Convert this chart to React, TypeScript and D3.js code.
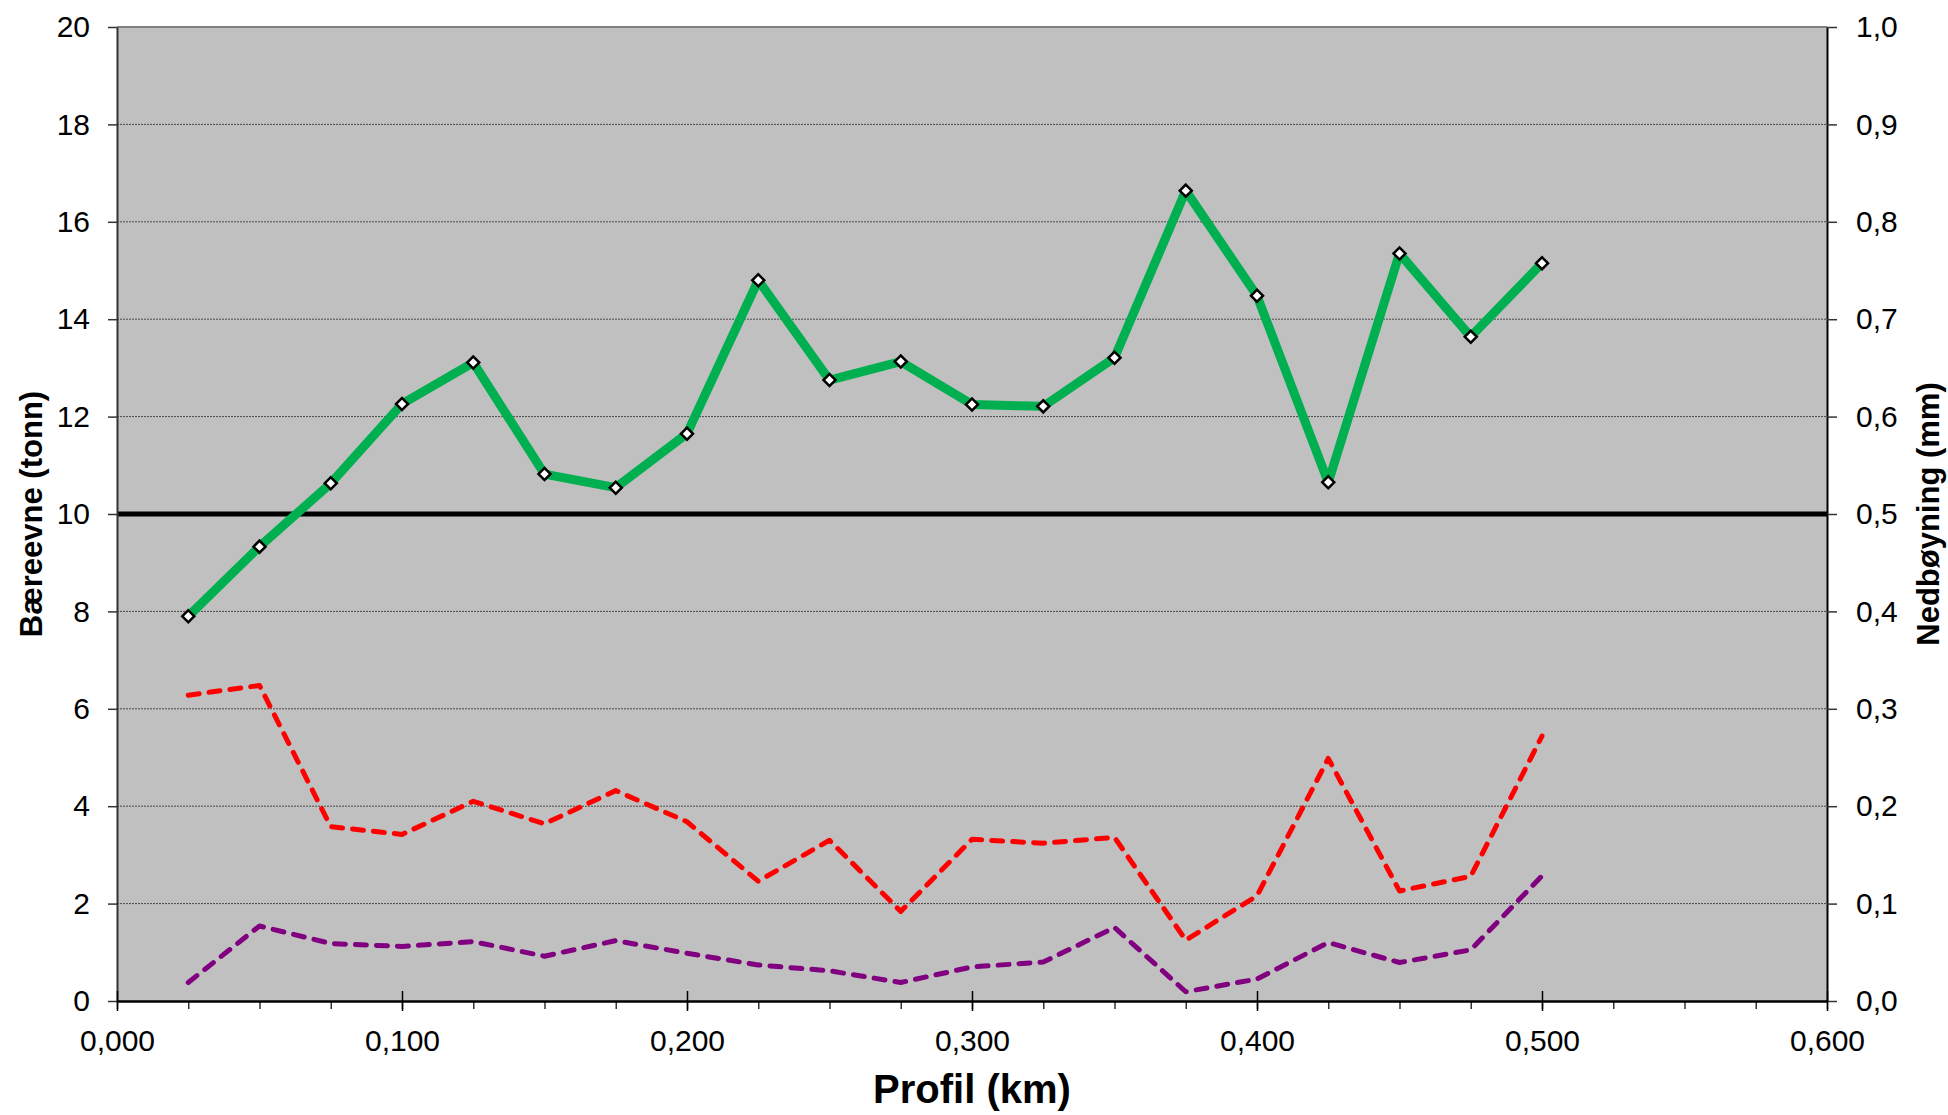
import React, { useEffect, useRef } from 'react';
import * as d3 from 'd3';

// profil (km) for each measuring point
const profil = [0.025, 0.05, 0.075, 0.1, 0.125, 0.15, 0.175, 0.2, 0.225, 0.25,
  0.275, 0.3, 0.325, 0.35, 0.375, 0.4, 0.425, 0.45, 0.475, 0.5];

// bæreevne (tonn), left axis
const baereevne = [7.9, 9.33, 10.63, 12.26, 13.11, 10.82, 10.54, 11.65, 14.8, 12.75,
  13.13, 12.25, 12.21, 13.21, 16.64, 14.48, 10.65, 15.35, 13.64, 15.15];

// nedbøyning (mm), right axis
const nedbA = [0.314, 0.324, 0.179, 0.171, 0.205, 0.182, 0.216, 0.184, 0.123, 0.165,
  0.092, 0.166, 0.162, 0.168, 0.0625, 0.108, 0.249, 0.113, 0.128, 0.272];
const nedbB = [0.019, 0.077, 0.059, 0.056, 0.061, 0.046, 0.062, 0.049, 0.037, 0.031,
  0.019, 0.035, 0.040, 0.0755, 0.0095, 0.0225, 0.060, 0.0395, 0.0525, 0.1285];

const grense = 10;

const W = 1948;
const H = 1115;
const margin = { top: 27, right: 121, bottom: 114, left: 117 };
const FONT = "'Liberation Sans', Arial, sans-serif";

const comma = (f: (n: number) => string) => (d: any) => f(+d).replace('.', ',');

export default function App() {
  const svgRef = useRef<SVGSVGElement>(null);

  useEffect(() => {
    if (!svgRef.current) return;
    const svg = d3.select(svgRef.current);
    svg.selectAll('*').remove();

    const left = margin.left;
    const right = W - margin.right;
    const top = margin.top;
    const bottom = H - margin.bottom;

    const x = d3.scaleLinear().domain([0, 0.6]).range([left, right]);
    const yL = d3.scaleLinear().domain([0, 20]).range([bottom, top]);
    const yR = d3.scaleLinear().domain([0, 1]).range([bottom, top]);

    svg.append('rect')
      .attr('x', left).attr('y', top)
      .attr('width', right - left).attr('height', bottom - top)
      .attr('fill', '#c0c0c0');

    // dotted gridlines
    svg.append('g')
      .selectAll('line')
      .data(d3.range(2, 20, 2))
      .enter()
      .append('line')
      .attr('x1', left).attr('x2', right)
      .attr('y1', d => yL(d)).attr('y2', d => yL(d))
      .attr('stroke', '#4a4a4a')
      .attr('stroke-width', 1)
      .attr('stroke-dasharray', '2,1');

    svg.append('line')
      .attr('x1', left).attr('x2', right)
      .attr('y1', top).attr('y2', top)
      .attr('stroke', '#808080')
      .attr('stroke-width', 2);

    // limit line
    svg.append('line')
      .attr('x1', left).attr('x2', right)
      .attr('y1', yL(grense)).attr('y2', yL(grense))
      .attr('stroke', '#000')
      .attr('stroke-width', 5);

    const lineR = d3.line<number>()
      .x((_, i) => x(profil[i]))
      .y(d => yR(d));

    const dashed = [
      { values: nedbA, color: '#ff0000' },
      { values: nedbB, color: '#800080' },
    ];
    dashed.forEach(s => {
      svg.append('path')
        .datum(s.values)
        .attr('d', lineR)
        .attr('fill', 'none')
        .attr('stroke', s.color)
        .attr('stroke-width', 5)
        .attr('stroke-linecap', 'round')
        .attr('stroke-linejoin', 'round')
        .attr('stroke-dasharray', '11,10');
    });

    const lineL = d3.line<number>()
      .x((_, i) => x(profil[i]))
      .y(d => yL(d));

    svg.append('path')
      .datum(baereevne)
      .attr('d', lineL)
      .attr('fill', 'none')
      .attr('stroke', '#00b050')
      .attr('stroke-width', 9)
      .attr('stroke-linejoin', 'round');

    const diamond = d3.symbol().type(d3.symbolSquare).size(72);
    svg.append('g')
      .selectAll('path')
      .data(baereevne)
      .enter()
      .append('path')
      .attr('d', diamond)
      .attr('transform', (d, i) => `translate(${x(profil[i])},${yL(d)}) rotate(45)`)
      .attr('fill', '#fff')
      .attr('stroke', '#000')
      .attr('stroke-width', 2.5);

    // left axis
    const gL = svg.append('g')
      .attr('transform', `translate(${left},0)`)
      .call(d3.axisLeft(yL).tickValues(d3.range(0, 21, 2)).tickSize(9).tickSizeOuter(0).tickPadding(18));
    gL.select('.domain').attr('stroke', '#333').attr('stroke-width', 2);
    gL.selectAll('.tick line').attr('stroke', '#333').attr('stroke-width', 1.5);
    gL.selectAll('text').style('font-family', FONT).style('font-size', '30px').attr('fill', '#000');

    // right axis
    const gR = svg.append('g')
      .attr('transform', `translate(${right},0)`)
      .call(d3.axisRight(yR).tickValues(d3.range(0, 11).map(i => i / 10))
        .tickFormat(comma(d3.format('.1f'))).tickSize(10).tickSizeOuter(0).tickPadding(19));
    gR.select('.domain').attr('stroke', '#000').attr('stroke-width', 2);
    gR.selectAll('.tick line').attr('stroke', '#333').attr('stroke-width', 1.5);
    gR.selectAll('text').style('font-family', FONT).style('font-size', '30px').attr('fill', '#000');

    // bottom axis: minor ticks, then major ticks with labels
    const gXm = svg.append('g')
      .attr('transform', `translate(0,${bottom})`)
      .call(d3.axisBottom(x).tickValues(d3.range(0, 25).map(i => i * 0.025))
        .tickSize(8).tickSizeOuter(0).tickFormat(() => ''));
    gXm.select('.domain').remove();
    gXm.selectAll('.tick line').attr('stroke', '#333').attr('stroke-width', 1.5);

    const gX = svg.append('g')
      .attr('transform', `translate(0,${bottom})`)
      .call(d3.axisBottom(x).tickValues(d3.range(0, 7).map(i => i / 10))
        .tickFormat(comma(d3.format('.3f'))).tickSize(10).tickSizeOuter(0).tickPadding(19));
    gX.select('.domain').attr('stroke', '#000').attr('stroke-width', 2.5);
    gX.selectAll('.tick line').attr('stroke', '#000').attr('stroke-width', 1.5).attr('y1', -10);
    gX.selectAll('text').style('font-family', FONT).style('font-size', '30px').attr('fill', '#000');

    // axis titles
    svg.append('text')
      .attr('x', (left + right) / 2)
      .attr('y', 1103)
      .attr('text-anchor', 'middle')
      .style('font-family', FONT)
      .style('font-size', '40px')
      .style('font-weight', 'bold')
      .text('Profil (km)');

    svg.append('text')
      .attr('transform', `translate(42,${(top + bottom) / 2}) rotate(-90)`)
      .attr('text-anchor', 'middle')
      .style('font-family', FONT)
      .style('font-size', '31px')
      .style('font-weight', 'bold')
      .text('Bæreevne (tonn)');

    svg.append('text')
      .attr('transform', `translate(1939,${(top + bottom) / 2}) rotate(-90)`)
      .attr('text-anchor', 'middle')
      .style('font-family', FONT)
      .style('font-size', '31px')
      .style('font-weight', 'bold')
      .text('Nedbøyning (mm)');
  }, []);

  return (
    <svg
      ref={svgRef}
      width={W}
      height={H}
      style={{ position: 'absolute', left: 0, top: 0, background: '#fff' }}
    />
  );
}
